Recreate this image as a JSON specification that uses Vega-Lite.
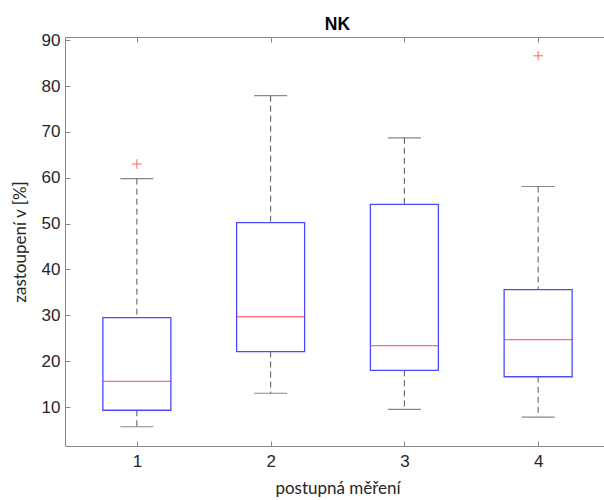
{
  "$schema": "https://vega.github.io/schema/vega-lite/v6.json",
  "autosize": "none",
  "width": 545,
  "height": 409,
  "padding": {"left": 65, "top": 37, "right": 0, "bottom": 54},
  "background": "white",
  "config": {
    "view": {"stroke": null},
    "axis": {
      "grid": false,
      "domainColor": "#868686",
      "tickColor": "#868686",
      "labelColor": "#262626",
      "titleColor": "#262626",
      "labelFont": "Liberation Sans",
      "titleFont": "Lato",
      "labelFontSize": 17,
      "titleFontSize": 17,
      "titleFontWeight": "normal"
    },
    "title": {"font": "Liberation Sans", "fontSize": 17.5, "fontWeight": "bold", "color": "#000000"}
  },
  "title": {"text": "NK", "offset": -2, "anchor": "middle", "frame": "group"},
  "datasets": {
    "boxes": [
      {"m": 1, "lo": 5.7, "q1": 9.3, "med": 15.6, "q3": 29.5, "hi": 59.8},
      {"m": 2, "lo": 13.0, "q1": 22.1, "med": 29.7, "q3": 50.2, "hi": 77.9},
      {"m": 3, "lo": 9.5, "q1": 18.0, "med": 23.4, "q3": 54.2, "hi": 68.7},
      {"m": 4, "lo": 7.8, "q1": 16.6, "med": 24.7, "q3": 35.6, "hi": 58.1}
    ],
    "outliers": [
      {"m": 1, "v": 63.0},
      {"m": 4, "v": 86.6}
    ]
  },
  "resolve": {"axis": {"x": "independent", "y": "independent"}},
  "layer": [
    {
      "data": {"name": "boxes"},
      "mark": {"type": "rule", "strokeDash": [6, 4], "color": "#555555", "strokeWidth": 1},
      "encoding": {
        "x": {"field": "m", "type": "quantitative", "scale": {"domain": [0.5, 4.5], "nice": false, "zero": false},
              "axis": {"orient": "bottom", "values": [1, 2, 3, 4], "tickSize": -5, "labelPadding": 12, "title": "postupná měření", "titlePadding": 11, "format": "d"}},
        "y": {"field": "hi", "type": "quantitative", "scale": {"domain": [1.5, 90.7], "nice": false, "zero": false},
              "axis": {"orient": "left", "values": [10, 20, 30, 40, 50, 60, 70, 80, 90], "tickSize": -5, "labelPadding": 10, "title": "zastoupení v [%]", "titlePadding": 11.5}},
        "y2": {"field": "q3"}
      }
    },
    {
      "data": {"name": "boxes"},
      "mark": {"type": "rule", "strokeDash": [6, 4], "color": "#555555", "strokeWidth": 1},
      "encoding": {
        "x": {"field": "m", "type": "quantitative", "axis": null},
        "y": {"field": "q1", "type": "quantitative", "axis": null},
        "y2": {"field": "lo"}
      }
    },
    {
      "data": {"name": "boxes"},
      "mark": {"type": "tick", "orient": "horizontal", "size": 33, "thickness": 1.2, "color": "#555555"},
      "encoding": {
        "x": {"field": "m", "type": "quantitative", "axis": null},
        "y": {"field": "hi", "type": "quantitative", "axis": null}
      }
    },
    {
      "data": {"name": "boxes"},
      "mark": {"type": "tick", "orient": "horizontal", "size": 33, "thickness": 1.2, "color": "#555555"},
      "encoding": {
        "x": {"field": "m", "type": "quantitative", "axis": null},
        "y": {"field": "lo", "type": "quantitative", "axis": null}
      }
    },
    {
      "data": {"name": "boxes"},
      "mark": {"type": "bar", "size": 68, "fill": "white", "fillOpacity": 0, "stroke": "#4a4aff", "strokeWidth": 1.3},
      "encoding": {
        "x": {"field": "m", "type": "quantitative", "axis": null},
        "y": {"field": "q1", "type": "quantitative", "axis": null},
        "y2": {"field": "q3"}
      }
    },
    {
      "data": {"name": "boxes"},
      "mark": {"type": "tick", "orient": "horizontal", "size": 68, "thickness": 1.2, "color": "#ff3030"},
      "encoding": {
        "x": {"field": "m", "type": "quantitative",
              "axis": {"orient": "top", "values": [1, 2, 3, 4], "tickSize": -5, "labels": false, "title": null}},
        "y": {"field": "med", "type": "quantitative", "axis": null}
      }
    },
    {
      "data": {"name": "outliers"},
      "mark": {"type": "point", "shape": "M-1,0L1,0M0,-1L0,1", "filled": false, "size": 90, "stroke": "#ff2020", "strokeWidth": 1},
      "encoding": {
        "x": {"field": "m", "type": "quantitative", "axis": null},
        "y": {"field": "v", "type": "quantitative", "axis": null}
      }
    }
  ]
}
